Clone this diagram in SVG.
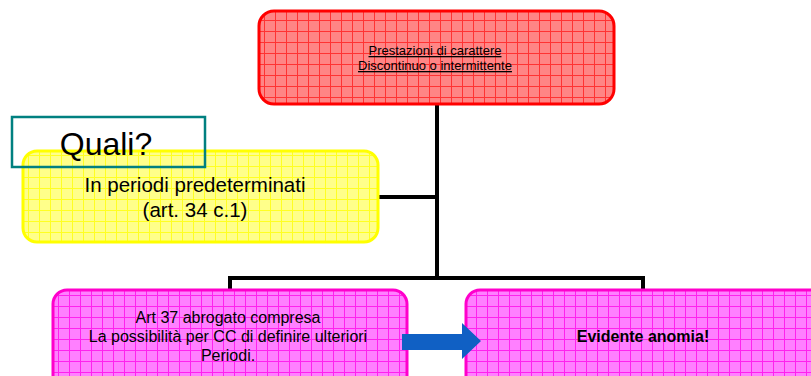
<svg xmlns="http://www.w3.org/2000/svg" width="811" height="376" viewBox="0 0 811 376">
<defs>
<pattern id="gRed" width="11" height="11" patternUnits="userSpaceOnUse" x="264" y="20">
<rect width="11" height="11" fill="#ff8585"/>
<path d="M0 0.5H11M0.5 0V11" stroke="#ff3333" stroke-width="1"/>
</pattern>
<pattern id="gYel" width="11" height="11" patternUnits="userSpaceOnUse" x="28" y="155">
<rect width="11" height="11" fill="#ffff8a"/>
<path d="M0 0.5H11M0.5 0V11" stroke="#ffff22" stroke-width="1"/>
</pattern>
<pattern id="gMag" width="11" height="11" patternUnits="userSpaceOnUse" x="58" y="295">
<rect width="11" height="11" fill="#ff80ff"/>
<path d="M0 0.5H11M0.5 0V11" stroke="#ff22ee" stroke-width="1"/>
</pattern>
<style>
text{font-family:"Liberation Sans",Arial,sans-serif;fill:#000}
.c{stroke:#000;stroke-width:4;fill:none}
</style>
</defs>
<rect width="811" height="376" fill="#fff"/>
<g id="connectors">
<path class="c" d="M437 104V278M378 197H437M230 289V278H643V289"/>
</g>
<g id="n-top">
<rect x="259" y="11" width="355" height="93" rx="15" fill="url(#gRed)" stroke="#ff0000" stroke-width="3"/>
<text x="435" y="55" font-size="13" text-anchor="middle" text-decoration="underline">Prestazioni di carattere</text>
<text x="435" y="70" font-size="13" text-anchor="middle" text-decoration="underline">Discontinuo o intermittente</text>
</g>
<g id="n-yellow">
<rect x="23" y="151" width="355" height="91" rx="14" fill="url(#gYel)" stroke="#ffff00" stroke-width="3"/>
<text x="195" y="192" font-size="20.5" text-anchor="middle">In periodi predeterminati</text>
<text x="195" y="217" font-size="20.5" text-anchor="middle">(art. 34 c.1)</text>
</g>
<g id="n-quali">
<rect x="12" y="117" width="193" height="50" fill="none" stroke="#008080" stroke-width="2.5"/>
<text x="106" y="155" font-size="32" text-anchor="middle">Quali?</text>
</g>
<g id="n-left">
<rect x="53" y="290" width="354" height="100" rx="14" fill="url(#gMag)" stroke="#ff00cc" stroke-width="3"/>
<text x="228" y="323" font-size="16" text-anchor="middle">Art 37 abrogato compresa</text>
<text x="228" y="342" font-size="16" text-anchor="middle">La possibilità per CC di definire ulteriori</text>
<text x="228" y="361" font-size="16" text-anchor="middle">Periodi.</text>
</g>
<g id="n-right">
<rect x="466" y="290" width="360" height="100" rx="14" fill="url(#gMag)" stroke="#ff00cc" stroke-width="3"/>
<text x="643" y="342" font-size="16" font-weight="bold" text-anchor="middle">Evidente anomia!</text>
</g>
<g id="arrow">
<path d="M402 334H462V323L481 341L462 359V350H402Z" fill="#1060c4"/>
</g>
</svg>
